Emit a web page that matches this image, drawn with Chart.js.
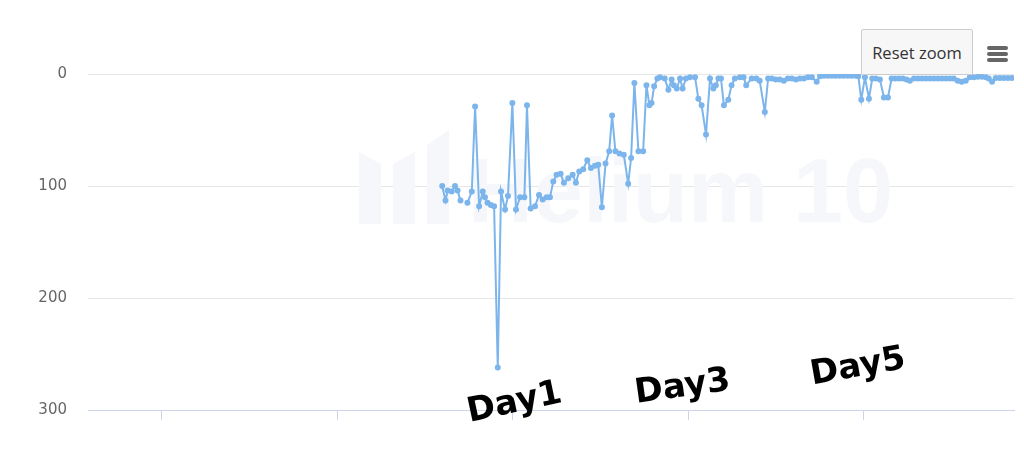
<!DOCTYPE html>
<html>
<head>
<meta charset="utf-8">
<script src="https://cdn.jsdelivr.net/npm/chart.js@4"></script>
<style>
  body { margin: 0; background: #fff; }
  #wrap { position: relative; width: 1024px; height: 455px; }
  #resetBtn {
    position: absolute; left: 861px; top: 29px; width: 112px; height: 46px;
    box-sizing: border-box; background: #f7f7f7; border: 1px solid #cccccc;
    border-radius: 2px; font: 16.5px "Open Sans", sans-serif; color: #333;
    display: flex; align-items: center; justify-content: center;
  }
  .bar { position: absolute; left: 987px; width: 21px; height: 4px; background: #666; border-radius: 2px; }
</style>
</head>
<body>
<div id="wrap">
  <canvas id="rankChart" width="1024" height="455"></canvas>
  <div id="resetBtn">Reset zoom</div>
  <div class="bar" style="top:46px"></div>
  <div class="bar" style="top:52px"></div>
  <div class="bar" style="top:58px"></div>
</div>
<script>
// hours since the first day tick
const hours = [76.7,77.6,78.2,79.3,80.2,80.9,81.7,82.6,83.6,84.8,85.7,86.8,87.8,88.4,89.1,90.0,90.9,91.9,
  92.8,93.9,94.7,95.9,96.9,98.0,99.2,99.9,100.9,102.1,103.2,104.2,105.3,106.2,107.1,108.0,109.1,110.0,111.2,112.4,
  113.3,114.2,115.3,116.4,117.4,118.5,119.4,120.4,121.4,122.4,123.2,124.1,125.2,126.4,127.6,128.4,129.3,130.4,131.7,132.6,
  133.4,134.0,134.7,135.6,136.3,137.6,138.6,139.5,140.1,140.9,141.8,142.5,143.4,144.5,145.9,146.8,147.7,148.9,150.0,150.9,
  151.6,152.3,153.0,153.8,155.0,155.9,156.8,158.2,159.2,159.9,161.4,162.7,163.6,165.0,165.9,166.9,168.0,169.1,170.2,171.3,
  172.4,173.5,174.6,175.7,176.8,177.9,179.2,180.1,181.2,182.3,183.4,184.4,185.5,186.6,187.7,188.8,189.9,190.6,191.4,192.4,
  193.5,194.4,195.4,196.5,197.6,198.7,199.7,200.7,201.7,202.8,203.8,204.7,205.8,206.9,208.0,209.1,210.2,211.3,212.4,213.5,
  214.6,215.7,216.7,217.8,218.9,220.0,221.1,222.2,223.3,224.4,225.5,226.3,227.2,228.2,229.3,230.4,231.5,232.6];

const ranks = [100,113,104,105,100,104,113,null,115,105,29,118,105,110,115,117,118,262,
  105,121,109,26,121,110,110,28,120,118,108,112,110,110,96,90,89,97,93,90,
  97,87,85,77,84,82,81,119,80,69,37,69,71,72,98,75,8,69,69,10,
  28,26,11,4,3,4,14,5,10,13,4,13,4,3,3,22,28,54,4,13,
  10,4,4,28,23,10,4,3,3,10,4,4,6,34,4,4,5,5,6,4,
  4,5,4,4,3,3,7,2,1.5,1.5,1.5,1.5,1.5,1.5,1.5,1.5,1.5,2,23,3,
  22,4,4,5,21,21,4,4,4,4,5,6,4,4,4,4,4,4,4,4,
  4,4,4,6,7,6,3,3,2.5,2.5,3,4,7,3.5,3.5,3.5,3.5,3.5];

const xTicks = [0, 48, 96, 144, 192];
const yTicks = [0, 100, 200, 300];

// handwritten notes under the line
const notes = [
  { text: 'Day1', hour: 96.5, rank: 294, angle: -12 },
  { text: 'Day3', hour: 142.5, rank: 280, angle: -8 },
  { text: 'Day5', hour: 190.5, rank: 262, angle: -10 }
];

const points = hours.map((h, i) => ({ x: h, y: ranks[i] }));

// faint "Helium 10" watermark behind the line
const watermark = {
  id: 'watermark',
  beforeDatasetsDraw(chart) {
    const ctx = chart.ctx;
    ctx.save();
    ctx.fillStyle = '#f5f7fa';
    // logo bars
    ctx.beginPath();
    ctx.moveTo(359, 152); ctx.lineTo(381, 164); ctx.lineTo(381, 224); ctx.lineTo(359, 224); ctx.closePath();
    ctx.moveTo(393, 164); ctx.lineTo(415, 152); ctx.lineTo(415, 224); ctx.lineTo(393, 224); ctx.closePath();
    ctx.moveTo(427, 145); ctx.lineTo(449, 130); ctx.lineTo(449, 224); ctx.lineTo(427, 224); ctx.closePath();
    ctx.fill();
    ctx.font = 'bold 90px "Liberation Sans"';
    ctx.textBaseline = 'alphabetic';
    ctx.fillText('Helium 10', 468, 222);
    ctx.restore();
  }
};

const notesPlugin = {
  id: 'notes',
  afterDraw(chart) {
    const ctx = chart.ctx;
    const xs = chart.scales.x, ys = chart.scales.y;
    ctx.save();
    ctx.fillStyle = '#000';
    ctx.font = 'bold 34px "DejaVu Sans"';
    ctx.textAlign = 'center';
    ctx.textBaseline = 'middle';
    notes.forEach(n => {
      ctx.save();
      ctx.translate(xs.getPixelForValue(n.hour), ys.getPixelForValue(n.rank));
      ctx.rotate(n.angle * Math.PI / 180);
      ctx.fillText(n.text, 0, 0);
      ctx.restore();
    });
    ctx.restore();
  }
};

const rankChart = new Chart(document.getElementById('rankChart'), {
  type: 'line',
  data: {
    datasets: [{
      data: points,
      borderColor: '#7cb5ec',
      backgroundColor: '#7cb5ec',
      borderWidth: 2,
      pointRadius: 2,
      pointHoverRadius: 2,
      spanGaps: false,
      tension: 0
    }]
  },
  options: {
    responsive: false,
    animation: false,
    devicePixelRatio: 1,
    layout: { padding: { top: 74, right: 10, left: 0, bottom: 0 } },
    plugins: { legend: { display: false }, tooltip: { enabled: false } },
    scales: {
      x: {
        type: 'linear',
        min: -20.25,
        max: 233.2,
        afterBuildTicks: s => { s.ticks = xTicks.map(v => ({ value: v })); },
        afterFit: s => { s.height = 45; },
        ticks: { display: false },
        grid: { drawOnChartArea: false, drawTicks: true, tickLength: 10, color: '#ccd6eb' },
        border: { color: '#ccd6eb', width: 1 }
      },
      y: {
        reverse: true,
        min: 0,
        max: 300,
        afterBuildTicks: s => { s.ticks = yTicks.map(v => ({ value: v })); },
        afterFit: s => { s.width = 88; },
        ticks: { color: '#666', padding: 21, font: { family: 'DejaVu Sans', size: 15 } },
        grid: { color: '#e6e6e6', drawTicks: false },
        border: { display: false }
      }
    }
  },
  plugins: [watermark, notesPlugin]
});
</script>
</body>
</html>
